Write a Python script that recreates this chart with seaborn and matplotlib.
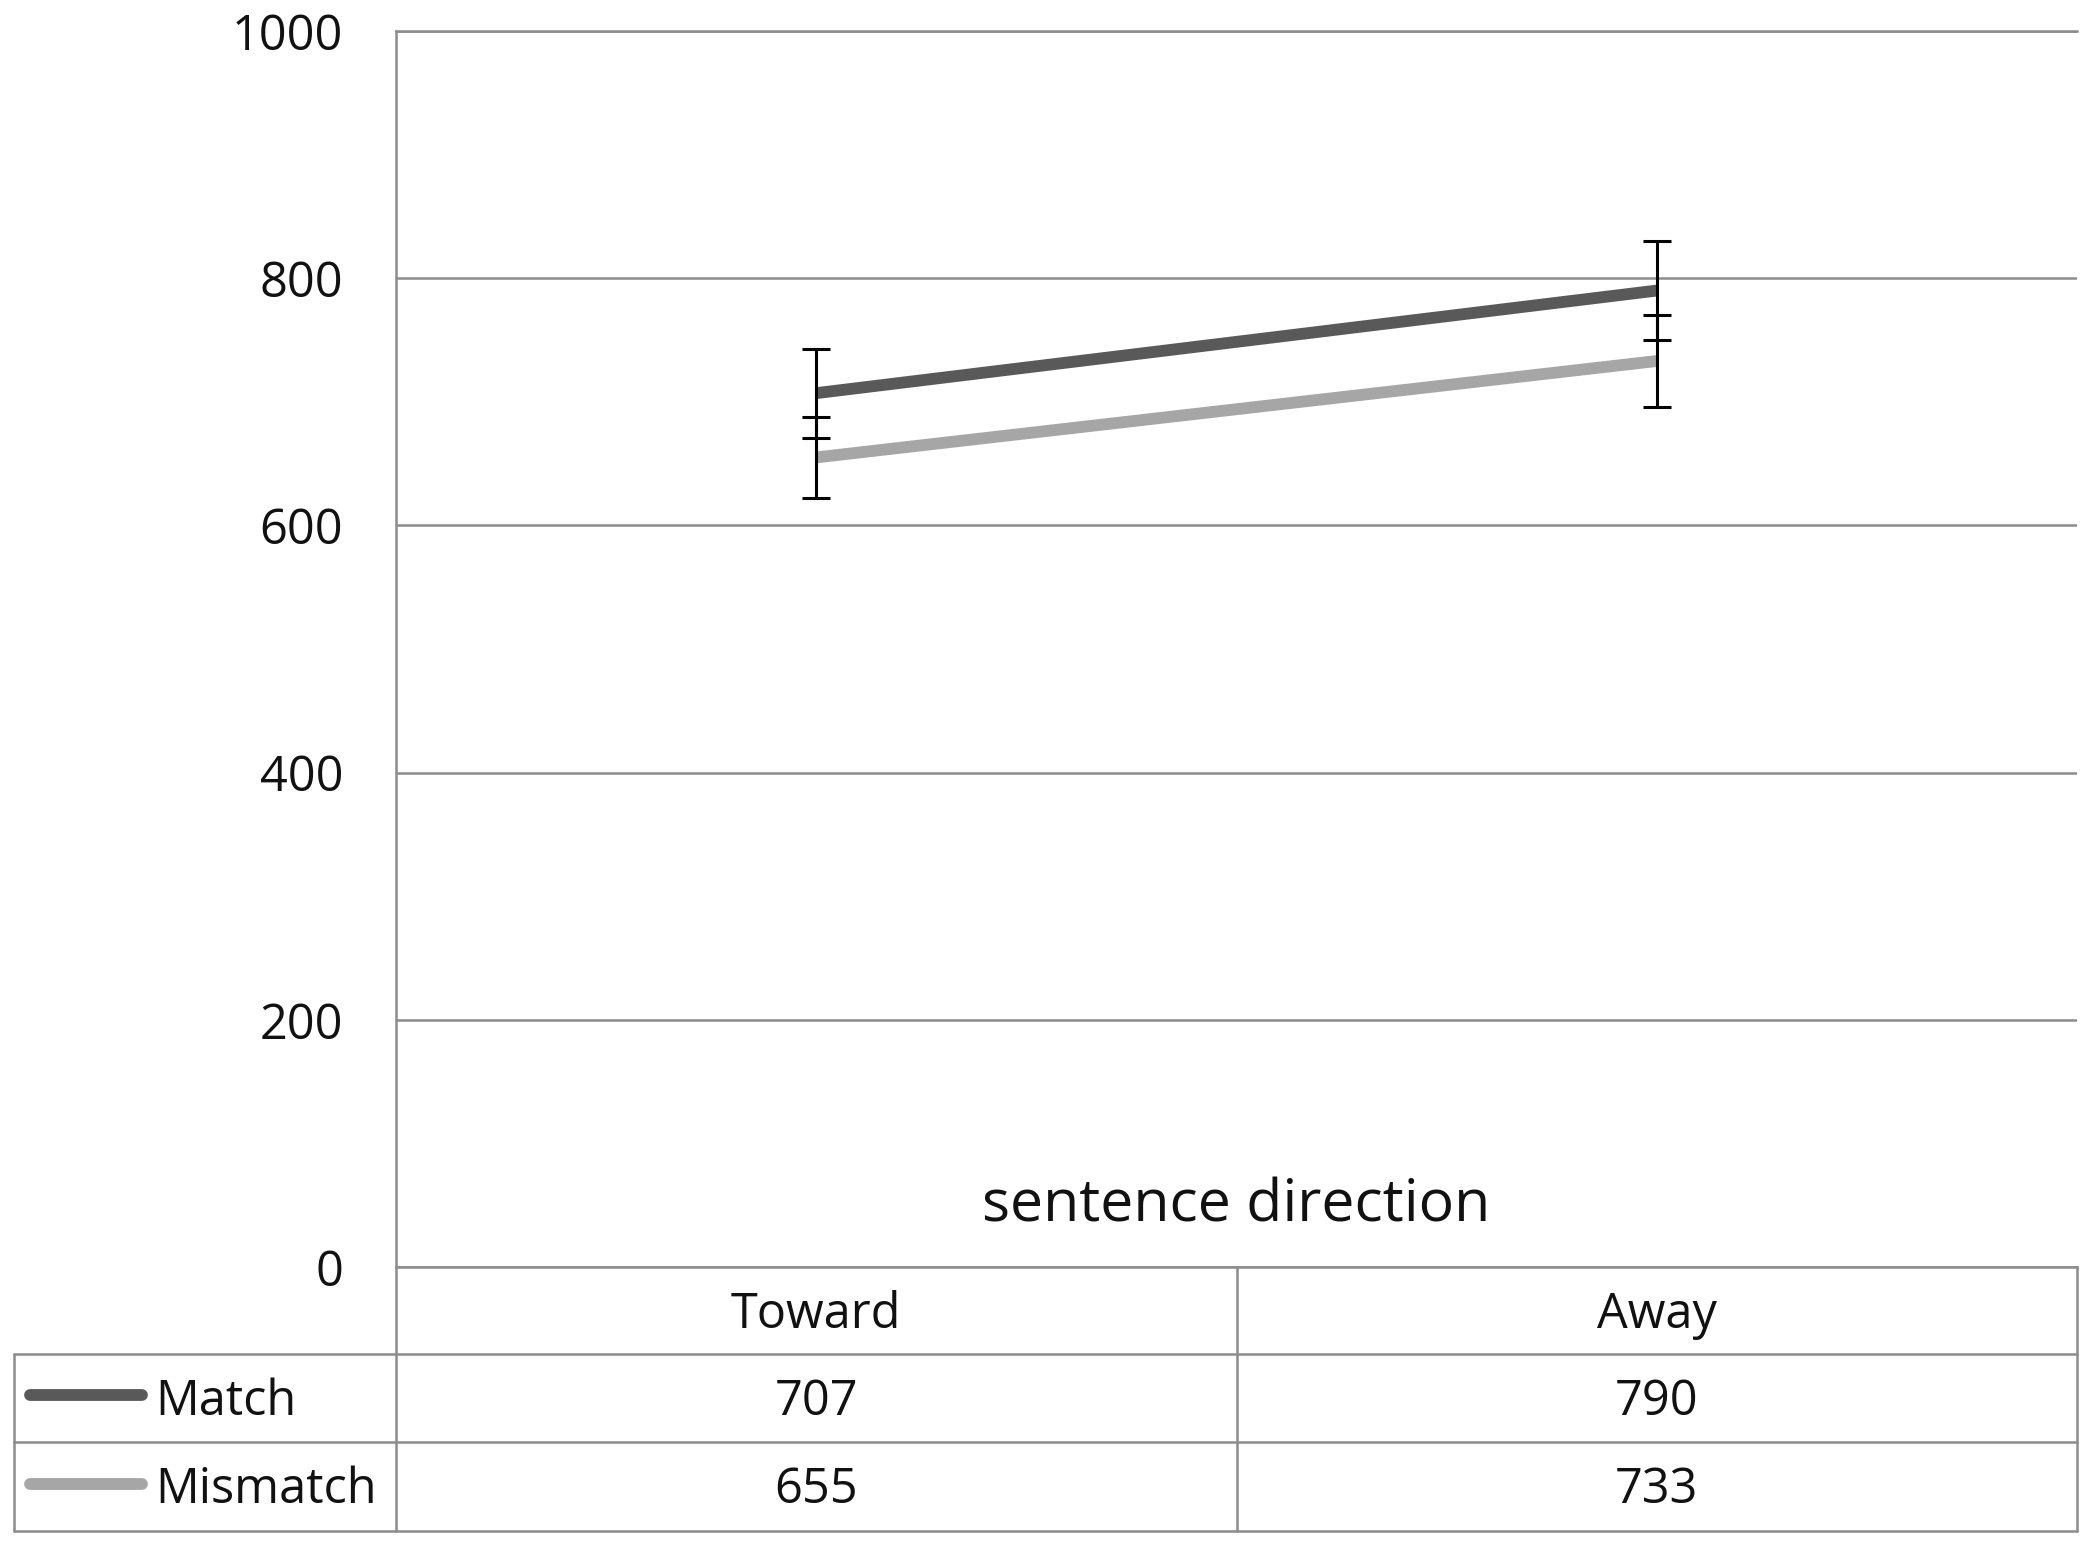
import pandas as pd
import matplotlib
matplotlib.use("Agg")
import matplotlib.pyplot as plt
from matplotlib.lines import Line2D
import seaborn as sns

# Data
directions = ["Toward", "Away"]
conditions = ["Match", "Mismatch"]
match_rt = [707, 790]
mismatch_rt = [655, 733]
match_err = [36, 40]
mismatch_err = [33, 37]
y_ticks = [0, 200, 400, 600, 800, 1000]
x_title = "sentence direction"

line_colors = {"Match": "#595959", "Mismatch": "#a6a6a6"}
grid_color = "#8c8c8c"

sns.set_style("white")
plt.rcParams["font.family"] = ["Open Sans", "DejaVu Sans"]

W, H = 2093, 1547
fig = plt.figure(figsize=(W / 100, H / 100), dpi=100)


def fx(px):
    return px / W


def fy(py):
    return 1 - py / H


# plot area in pixels
left, right, top, bottom = 396, 2077, 31, 1267
ax = fig.add_axes([fx(left), fy(bottom), fx(right) - fx(left), fy(top) - fy(bottom)])

df = pd.DataFrame({
    "direction": directions * 2,
    "condition": [conditions[0]] * 2 + [conditions[1]] * 2,
    "rt": match_rt + mismatch_rt,
    "err": match_err + mismatch_err,
})

sns.lineplot(data=df, x="direction", y="rt", hue="condition", palette=line_colors,
             linewidth=8.5, legend=False, sort=False, ax=ax, zorder=3)
for line in ax.lines:
    line.set_solid_capstyle("butt")

for cond in conditions:
    sub = df[df["condition"] == cond]
    ax.errorbar(x=range(len(sub)), y=sub["rt"], yerr=sub["err"], fmt="none",
                ecolor="black", elinewidth=2.2, capsize=10, capthick=2.2, zorder=4)

ax.set_xlim(-0.5, len(directions) - 0.5)
ax.set_ylim(y_ticks[0], y_ticks[-1])
ax.set_yticks(y_ticks)
ax.set_xticks([])
ax.set_xlabel("")
ax.set_ylabel("")
ax.yaxis.grid(True, color=grid_color, linewidth=1.8)
ax.set_axisbelow(True)
ax.tick_params(axis="y", length=0, pad=38, labelsize=35, labelcolor="#111111")
for side in ["top", "left", "bottom"]:
    ax.spines[side].set_color(grid_color)
    ax.spines[side].set_linewidth(1.8)
ax.spines["right"].set_visible(False)

# axis title inside plot area
fig.text(fx((left + right) / 2), fy(1222), x_title, ha="center", va="baseline",
         fontsize=42.5, color="#111111")

# data table below the plot
tab_left = 14
col_div = (left + right) / 2
row_y = [1267, 1354, 1442, 1531]


def hline(y, x0, x1):
    fig.add_artist(Line2D([fx(x0), fx(x1)], [fy(y), fy(y)], color=grid_color, linewidth=1.8))


def vline(x, y0, y1):
    fig.add_artist(Line2D([fx(x), fx(x)], [fy(y0), fy(y1)], color=grid_color, linewidth=1.8))


for y in row_y[1:]:
    hline(y, tab_left, right)
vline(tab_left, row_y[1], row_y[-1])
vline(left, row_y[0], row_y[-1])
vline(col_div, row_y[0], row_y[-1])
vline(right, row_y[0], row_y[-1])

col_centers = [left + (right - left) * (i + 0.5) / len(directions) for i in range(len(directions))]
for cx, name in zip(col_centers, directions):
    fig.text(fx(cx), fy(1328), name, ha="center", va="baseline", fontsize=35, color="#111111")

baselines = [1415, 1503]
for i, cond in enumerate(conditions):
    sub = df[df["condition"] == cond]
    yc = (row_y[i + 1] + row_y[i + 2]) / 2
    fig.add_artist(Line2D([fx(30), fx(142)], [fy(yc - 3), fy(yc - 3)], color=line_colors[cond],
                          linewidth=8.5, solid_capstyle="round"))
    fig.text(fx(155), fy(baselines[i]), cond, ha="left", va="baseline", fontsize=35, color="#111111")
    for cx, val in zip(col_centers, sub["rt"]):
        fig.text(fx(cx), fy(baselines[i]), f"{val}", ha="center", va="baseline",
                 fontsize=35, color="#111111")

fig.savefig("out.png", dpi=100, facecolor="white")
